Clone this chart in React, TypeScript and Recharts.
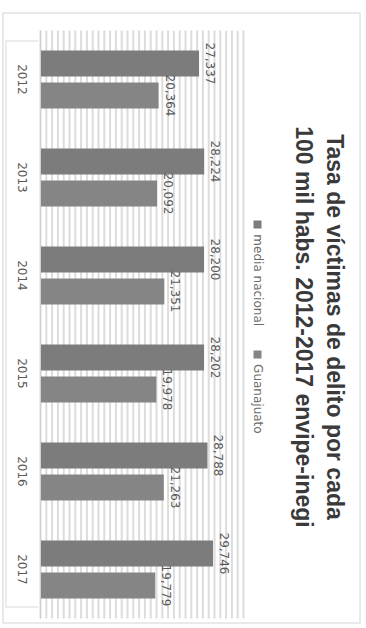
import { Bar, BarChart, CartesianGrid, LabelList, XAxis, YAxis } from "recharts"

const years = ["2012", "2013", "2014", "2015", "2016", "2017"]
const mediaNacional = [27337, 28224, 28200, 28202, 28788, 29746]
const estatal = [20364, 20092, 21351, 19978, 21263, 19779]
const seriesNames = ["media nacional", "Guanajuato"]
const gridTicks = Array.from({ length: 36 }, (_, i) => i * 1000)

const W = 611
const H = 358
const font = "'DejaVu Sans', Verdana, sans-serif"

const data = years.map((y, i) => ({
    year: y,
    nacional: mediaNacional[i],
    estatal: estatal[i],
}))

const fmt = (v: any) => Number(v).toLocaleString("en-US")

export default function App() {
    return (
        <div style={{ position: "fixed", left: 0, top: 0, width: 366, height: 628, background: "#fff", overflow: "hidden" }}>
            <div
                style={{
                    position: "absolute",
                    left: 181 - W / 2,
                    top: 317.5 - H / 2,
                    width: W,
                    height: H,
                    transform: "rotate(90deg)",
                    background: "#fff",
                    fontFamily: font,
                }}
            >
                <div style={{ position: "absolute", inset: 0, border: "1px solid #d4d4d4" }} />
                <div style={{ position: "absolute", left: 0, width: W, top: 11, textAlign: "center", fontSize: 23, fontWeight: "bold", lineHeight: "31px", color: "#3a3a3a", paddingLeft: 18, boxSizing: "border-box", fontFamily: "'Liberation Sans', Arial, sans-serif" }}>
                    Tasa de víctimas de delito por cada
                    <br />
                    100 mil habs. 2012-2017 envipe-inegi
                </div>
                <div style={{ position: "absolute", left: 0, width: W, top: 96, display: "flex", justifyContent: "center", gap: 24, fontSize: 12, color: "#6a6a6a", paddingLeft: 18, boxSizing: "border-box" }}>
                    <span><span style={{ display: "inline-block", width: 8, height: 8, background: "#7c7c7c", marginRight: 6 }} />{seriesNames[0]}</span>
                    <span><span style={{ display: "inline-block", width: 8, height: 8, background: "#858585", marginRight: 6 }} />{seriesNames[1]}</span>
                </div>
                <div style={{ position: "absolute", left: 28, width: 565, top: 322, height: 32, borderLeft: "1px solid #d9d9d9", borderRight: "1px solid #d9d9d9", borderBottom: "1px solid #d9d9d9" }} />
                <div style={{ position: "absolute", left: 0, top: 0 }}>
                    <BarChart width={W} height={H} data={data} margin={{ top: 117, right: 5, left: 18, bottom: 8 }} barGap={6} barSize={26}>
                        <CartesianGrid vertical={false} stroke="#dcdcdc" strokeWidth={2} />
                        <XAxis
                            dataKey="year"
                            height={30}
                            tickLine={false}
                            axisLine={{ stroke: "#d0d0d0" }}
                            tickMargin={8}
                            tick={{ fontSize: 12, fill: "#5a5a5a", fontFamily: font }}
                        />
                        <YAxis hide domain={[0, 35000]} ticks={gridTicks} interval={0} />
                        <Bar dataKey="nacional" name={seriesNames[0]} fill="#7c7c7c" isAnimationActive={false}>
                            <LabelList dataKey="nacional" position="top" offset={7} formatter={fmt} style={{ fontSize: 12, fill: "#5a5a5a", fontFamily: font }} />
                        </Bar>
                        <Bar dataKey="estatal" name={seriesNames[1]} fill="#858585" isAnimationActive={false}>
                            <LabelList dataKey="estatal" position="top" offset={7} formatter={fmt} style={{ fontSize: 12, fill: "#5a5a5a", fontFamily: font }} />
                        </Bar>
                    </BarChart>
                </div>
            </div>
        </div>
    )
}
